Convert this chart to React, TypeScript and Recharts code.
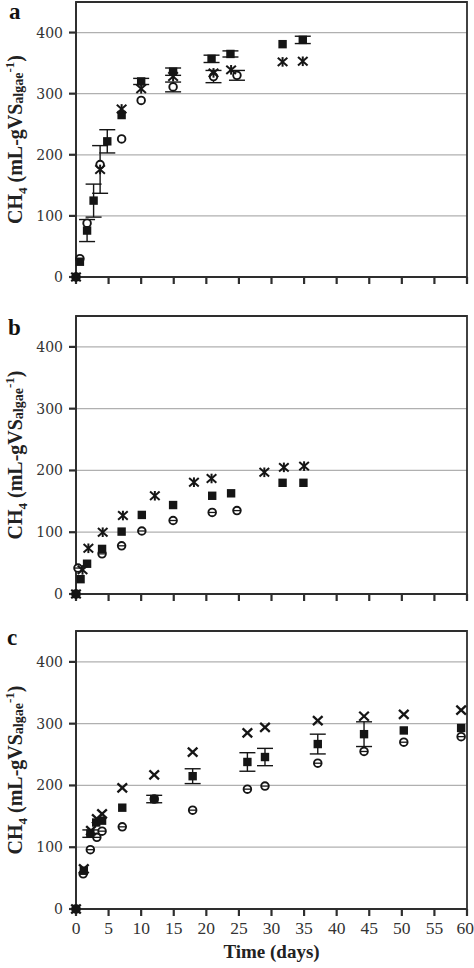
import React from 'react';
import { ScatterChart, Scatter, XAxis, YAxis, CartesianGrid, ErrorBar, ReferenceArea } from 'recharts';

// [day, CH4 mL/gVS, error]
const aSquares = [[0, 0], [0.6, 25], [1.7, 76, 18], [2.7, 125, 27], [4.8, 222, 19], [7, 265], [10, 320, 5], [14.9, 336, 6], [20.8, 357, 6], [23.7, 365, 5], [31.7, 381], [34.8, 388, 6]];
const aCircles = [[0, 0], [0.6, 30], [1.7, 88], [3.7, 184], [7, 226], [10, 289], [14.9, 311, 8], [21.1, 328, 10], [24.7, 330, 8]];
const aStars = [[0, 0], [3.7, 176, 39], [7, 275], [10, 308], [14.9, 328], [21.1, 334], [23.8, 339], [31.7, 352], [34.8, 353]];

const bSquares = [[0, 0], [0.7, 24], [1.7, 49], [4.0, 73], [7.0, 101], [10.1, 128], [14.9, 144], [20.9, 159], [23.8, 163], [31.7, 180], [34.9, 180]];
const bCircles = [[0, 0], [0.3, 42], [4.0, 65], [7.0, 78], [10.1, 102], [14.9, 119], [20.9, 132], [24.7, 135]];
const bStars = [[0, 0], [1.0, 39], [1.9, 74], [4.1, 100], [7.2, 127], [12.1, 159], [18.1, 181], [20.8, 187], [28.9, 197], [31.9, 205], [35.0, 207]];

const cSquares = [[0, 0], [1.2, 62], [2.2, 122, 6], [3.1, 140], [4.0, 143], [7.1, 164], [12.0, 178, 6], [17.9, 215, 12], [26.3, 238, 15], [29.0, 246, 14], [37.1, 267, 16], [44.2, 283, 20], [50.3, 289], [59.1, 293]];
const cCircles = [[0, 0], [1.1, 57], [2.2, 96], [3.2, 116], [4.0, 126], [7.1, 133], [12.0, 178], [17.9, 160], [26.3, 194], [29.0, 199], [37.1, 236], [44.2, 255], [50.3, 270], [59.1, 279]];
const cCrosses = [[0, 0], [1.2, 65], [2.3, 127], [3.2, 146], [4.0, 154], [7.1, 196], [12.0, 217], [17.9, 254], [26.3, 285], [29.0, 294], [37.1, 305], [44.2, 312], [50.3, 315], [59.1, 322]];

const xTicks = [0, 5, 10, 15, 20, 25, 30, 35, 40, 45, 50, 55, 60];
const yTicks = [0, 100, 200, 300, 400];

const INK = '#151515';
const AXIS = '#2e2e2e';
const FONT = '"Liberation Serif", "DejaVu Serif", serif';

const toRows = (pts: number[][]) => pts.map(([day, ch4, err]) => ({ day, ch4, err }));

const Square = (p: any) => <rect x={p.cx - 4.2} y={p.cy - 4.2} width={8.4} height={8.4} fill={INK} />;
const Ring = (p: any) => <circle cx={p.cx} cy={p.cy} r={3.8} fill="#fff" stroke={INK} strokeWidth={1.9} />;
const BarRing = (p: any) => (
  <g>
    <circle cx={p.cx} cy={p.cy} r={3.8} fill="#fff" stroke={INK} strokeWidth={1.9} />
    <line x1={p.cx - 3.5} y1={p.cy} x2={p.cx + 3.5} y2={p.cy} stroke={INK} strokeWidth={1.3} />
  </g>
);
const Star = (p: any) => (
  <g stroke={INK} strokeWidth={2}>
    <line x1={p.cx - 4.8} y1={p.cy - 4.2} x2={p.cx + 4.8} y2={p.cy + 4.2} />
    <line x1={p.cx - 4.8} y1={p.cy + 4.2} x2={p.cx + 4.8} y2={p.cy - 4.2} />
    <line x1={p.cx} y1={p.cy - 4.8} x2={p.cx} y2={p.cy + 4.8} />
  </g>
);
const Cross = (p: any) => (
  <g stroke={INK} strokeWidth={2.3}>
    <line x1={p.cx - 4.8} y1={p.cy - 4.5} x2={p.cx + 4.8} y2={p.cy + 4.5} />
    <line x1={p.cx - 4.8} y1={p.cy + 4.5} x2={p.cx + 4.8} y2={p.cy - 4.5} />
  </g>
);
const NoTick = () => <g />;

const YLabel = ({ viewBox }: any) => {
  const cy = viewBox.y + viewBox.height / 2;
  return (
    <text
      x={0}
      y={0}
      transform={`translate(22, ${cy}) rotate(-90)`}
      textAnchor="middle"
      fontFamily={FONT}
      fontWeight="bold"
      fontSize={20}
      fill="#222"
    >
      CH<tspan fontSize={13} dy={5}>4</tspan>
      <tspan dy={-5}> (mL-gVS</tspan>
      <tspan fontSize={14} dy={1}>algae</tspan>
      <tspan fontSize={13} dy={-9}>-1</tspan>
      <tspan dy={8}>)</tspan>
    </text>
  );
};

interface PanelProps {
  top: number;
  height: number;
  marginTop: number;
  xHeight: number;
  showX: boolean;
  squares: number[][];
  circles: number[][];
  thirds: number[][];
  CircleShape: any;
  ThirdShape: any;
}

const tickLine = { stroke: AXIS, strokeWidth: 2.2 };

const Panel = ({ top, height, marginTop, xHeight, showX, squares, circles, thirds, CircleShape, ThirdShape }: PanelProps) => (
  <div style={{ position: 'absolute', left: 0, top }}>
    <ScatterChart width={474} height={height} margin={{ top: marginTop, right: 7, bottom: 0, left: 0 }}>
      <CartesianGrid horizontal vertical={false} stroke="#b0b0b0" strokeWidth={1.3} />
      <XAxis
        type="number"
        dataKey="day"
        domain={[0, 60]}
        ticks={xTicks}
        height={xHeight}
        tickSize={7}
        tickMargin={6}
        stroke={AXIS}
        strokeWidth={1.8}
        tickLine={tickLine}
        tick={showX ? { fill: '#333', fontSize: 17.5, fontFamily: FONT } : NoTick}
        label={showX ? { value: 'Time (days)', position: 'insideBottom', offset: 10, fill: '#222', fontSize: 19, fontWeight: 'bold', fontFamily: FONT } : undefined}
      />
      <YAxis
        type="number"
        dataKey="ch4"
        domain={[0, 450]}
        ticks={yTicks}
        width={76}
        tickSize={7}
        tickMargin={6}
        stroke={AXIS}
        strokeWidth={1.8}
        tickLine={tickLine}
        tick={{ fill: '#333', fontSize: 14, fontFamily: '"DejaVu Serif", serif' }}
        label={{ content: (props: any) => <YLabel {...props} /> }}
      />
      <ReferenceArea x1={0} x2={60} y1={0} y2={450} fill="none" stroke={AXIS} strokeWidth={1.8} ifOverflow="visible" />
      <Scatter data={toRows(circles)} shape={CircleShape} isAnimationActive={false}>
        <ErrorBar dataKey="err" direction="y" width={8} stroke={INK} strokeWidth={1.4} />
      </Scatter>
      <Scatter data={toRows(squares)} shape={Square} isAnimationActive={false}>
        <ErrorBar dataKey="err" direction="y" width={8} stroke={INK} strokeWidth={1.4} />
      </Scatter>
      <Scatter data={toRows(thirds)} shape={ThirdShape} isAnimationActive={false}>
        <ErrorBar dataKey="err" direction="y" width={8} stroke={INK} strokeWidth={1.4} />
      </Scatter>
    </ScatterChart>
  </div>
);

export default function App() {
  return (
    <div style={{ position: 'absolute', left: 0, top: 0, width: 474, height: 968, background: '#fff' }}>
      <Panel top={0} height={300} marginTop={2} xHeight={23} showX={false} squares={aSquares} circles={aCircles} thirds={aStars} CircleShape={Ring} ThirdShape={Star} />
      <Panel top={310} height={300} marginTop={6} xHeight={16} showX={false} squares={bSquares} circles={bCircles} thirds={bStars} CircleShape={BarRing} ThirdShape={Star} />
      <Panel top={620} height={348} marginTop={11} xHeight={59} showX squares={cSquares} circles={cCircles} thirds={cCrosses} CircleShape={BarRing} ThirdShape={Cross} />
      <svg width={60} height={968} style={{ position: 'absolute', left: 0, top: 0, pointerEvents: 'none' }}>
        <g fontFamily={FONT} fontWeight="bold" fontSize={23} fill="#111">
          <text x={9} y={19}>a</text>
          <text x={8} y={335}>b</text>
          <text x={7} y={645}>c</text>
        </g>
      </svg>
    </div>
  );
}
